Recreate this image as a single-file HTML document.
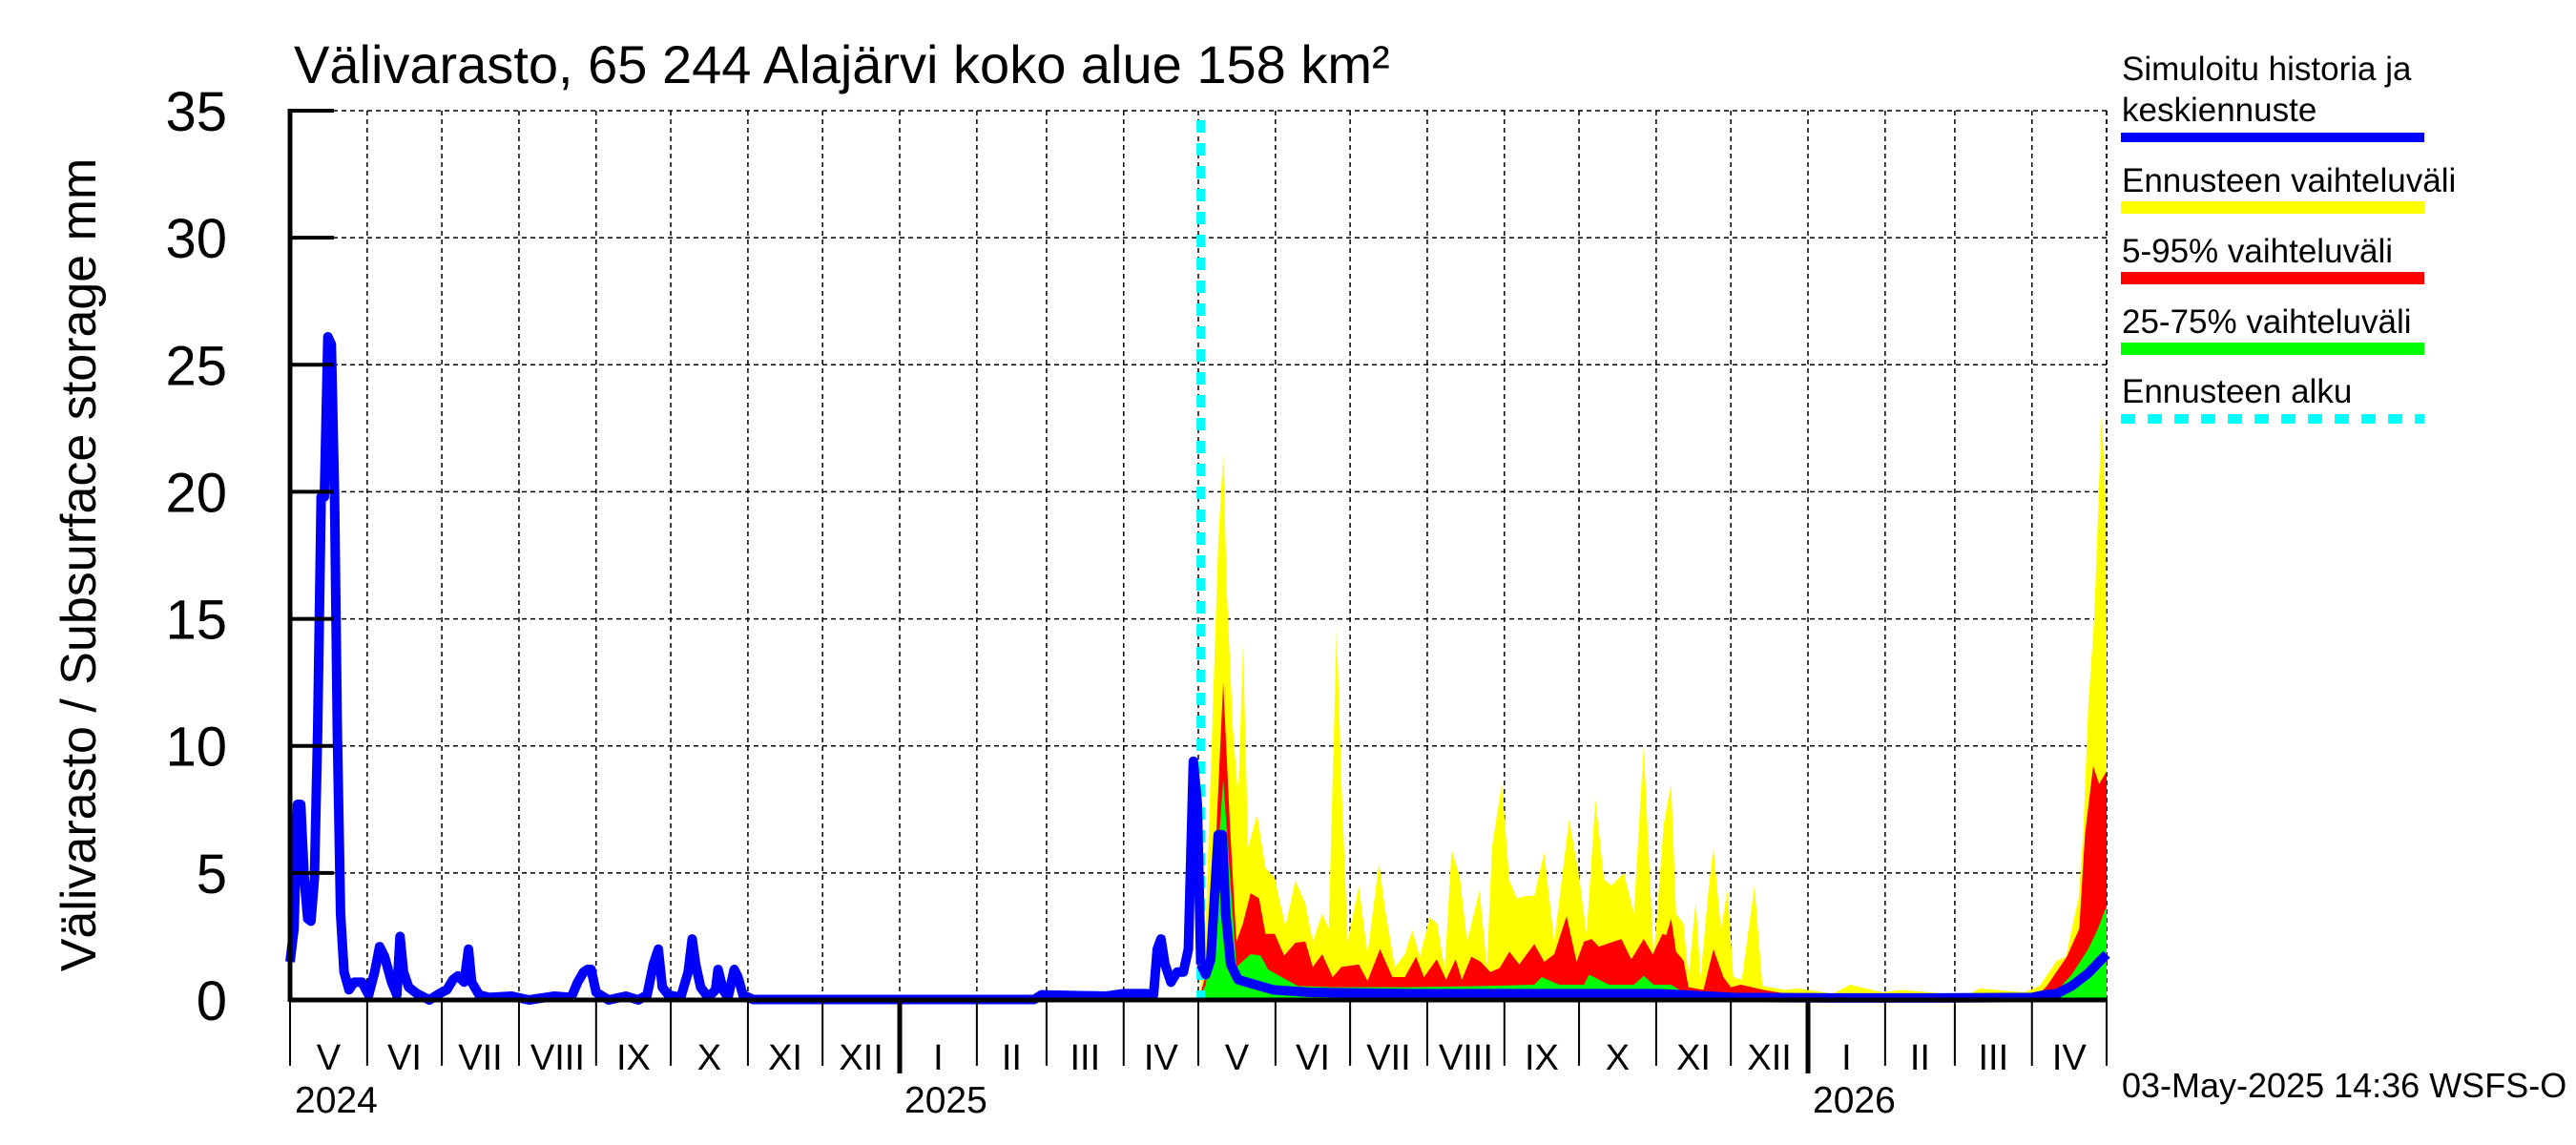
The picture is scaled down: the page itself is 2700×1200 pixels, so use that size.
<!DOCTYPE html>
<html><head><meta charset="utf-8"><style>
html,body{margin:0;padding:0;background:#fff;}
svg{display:block;font-family:"Liberation Sans",Arial,sans-serif;}
</style></head><body>
<svg id="chart" width="2700" height="1200" viewBox="0 0 2700 1200" xmlns="http://www.w3.org/2000/svg">
<rect width="2700" height="1200" fill="#fff"/>
<text x="308" y="87" font-size="56">Välivarasto, 65 244 Alajärvi koko alue 158 km²</text>
<text transform="translate(100,592) rotate(-90)" text-anchor="middle" font-size="52">Välivarasto / Subsurface storage  mm</text>
<g id="grid"></g>
<g id="bands"></g>
<g id="lines"></g>
<g id="axes"></g>
<g font-size="35">
<text x="2224" y="84">Simuloitu historia ja</text>
<text x="2224" y="127">keskiennuste</text>
<rect x="2223" y="139" width="318" height="10" fill="#0000ff"/>
<text x="2224" y="201">Ennusteen vaihteluväli</text>
<rect x="2223" y="211" width="318" height="13" fill="#ffff00"/>
<text x="2224" y="275">5-95% vaihteluväli</text>
<rect x="2223" y="285" width="318" height="13" fill="#ff0000"/>
<text x="2224" y="349">25-75% vaihteluväli</text>
<rect x="2223" y="359" width="318" height="13" fill="#00ff00"/>
<text x="2224" y="422">Ennusteen alku</text>
<line x1="2223" y1="439" x2="2541" y2="439" stroke="#00ffff" stroke-width="10" stroke-dasharray="15 13"/>
</g>
<text x="2224" y="1150" font-size="36">03-May-2025 14:36 WSFS-O</text>
</svg>
<script>
// ---- data (day 0 = 2024-05-01) ----
const histDays = [0,1.6,3,4.3,5.7,7.1,8.4,9.8,11.1,12.5,13.8,15.2,16.6,17.9,19,20.3,21.7,23.7,25.8,28.9,31.6,34,36,38,40.8,42.9,44.2,45.6,47.7,51,56,60,63,65.5,67.5,70,71.7,73,76,80,89,96,106,113,115.6,118,119.5,121,123,128,135,140,143.5,146,148,149.6,152,157,160,161.6,163,165,168,171,172,174,176,178.5,180,182,186,220,260,299,302,328,335,344,347,348.5,350,351.6,354,356.5,359,361,363,364.6,366];
const histVals = [1.5,2.8,7.7,7.7,4.8,3.2,3.1,4.8,10.6,19.8,19.8,26.1,25.8,19.8,10.6,3.4,1.1,0.4,0.7,0.7,0.2,1.1,2.1,1.7,0.7,0.2,2.5,1.1,0.5,0.25,0,0.25,0.4,0.8,0.95,0.7,2,0.7,0.2,0.1,0.15,0,0.15,0.1,0.7,1.1,1.2,1.2,0.3,0,0.15,0,0.2,1.4,2,0.5,0.2,0.1,1.1,2.4,1.4,0.5,0.1,0.4,1.2,0.4,0.1,1.2,0.9,0.2,0.02,0.02,0.02,0.02,0.2,0.15,0.25,0.25,0.2,2,2.4,1.4,0.7,1.1,1.1,2,9.4,7.7,1.4];
const medDays = [366,368,370,373,374.6,376,378,381,388,395,410,450,500,550,580,620,660,700,705,710,716,722.6,727,730];
const medVals = [1.4,1,1.6,6.5,6.5,3.4,1.4,0.8,0.6,0.4,0.3,0.25,0.25,0.25,0.1,0.08,0.08,0.1,0.2,0.25,0.55,1.05,1.5,1.8];
const yelDays = [366,368,371,373,375,376.5,378.9,381,383,385,388.6,392,395.7,400,404,408,411,414.8,417.4,420.6,422.5,425,429.5,433,437.6,440,444,448,451,454,458,461,464,466.8,470,473,478,481,483,487,490,493,497,500,504,508,514,518,521,524.6,528,531,536,540,544,548,552,555,557,560,562,564.9,566.8,570,572,575,577.7,580,583.4,588.5,591.7,601,606,620,627,640,647,665,673,679,697,703,710,713.7,716,718.8,720.7,722.6,725,728,729.5,730];
const yelVals = [1,3,12,18,21.5,16,10.7,8,14,6,7.3,5.2,4.8,2.9,4.7,3.8,2.3,3.4,2.8,14.7,8.6,2.3,4.5,1.8,5.4,3.6,1.3,1.8,2.75,1.7,3.25,3,1.2,5.9,4.9,2.3,4.3,1.3,6,8.5,4.7,4,4.1,4.1,5.8,2.3,7.1,4.9,2.6,7.9,4.75,4.5,5,3.4,10,1.6,6.9,8.5,3.4,3,0.9,3.9,0.9,4.3,6,2.8,4.3,0.9,0.8,4.5,0.55,0.4,0.45,0.25,0.6,0.3,0.4,0.25,0.15,0.45,0.3,0.55,1.55,1.7,2.8,4,6.8,11.5,15,23,20,14];
const redDays = [366,368,371,375,377.8,380.3,382.9,386,389.4,392,395.7,399.5,404,408,411,414.8,419,422.5,429.5,433,438,443,448,452.5,455.7,460.8,464.6,468.4,470.9,474.7,478.5,482.3,486,490,494,500,504,508,513,517,520,523,526,529,535,539,544,547.6,551.5,553,555,557,560,562,568,572,576,579,583,592,601,607,640,680,701,706,714,719,721.3,724.6,727,730];
const redVals = [0.3,1,4,12.5,6.7,2.3,3,4.2,4,2.6,2.6,1.75,2.25,2.3,1.3,1.8,0.9,1.3,1.4,0.75,2,0.9,0.9,1.7,0.9,1.6,0.8,1.6,0.8,1.7,1.5,1.1,1.25,1.9,1.4,2.2,1.5,1.8,3.3,1.5,2.3,2.4,2.1,2.2,2.4,1.6,2.4,1.8,2.6,2.55,3.2,1.9,1.55,0.5,0.4,2,0.9,0.5,0.6,0.4,0.25,0.18,0.05,0.05,0.05,0.55,1.7,2.8,6.5,9.2,8.5,9];
const grnDays = [366,368,371,375,377.8,380.3,386,390,393,398.5,405,420,450,480,500,503,510,520,522,530,540,544,548,555,560,580,700,710,716,722.6,726.5,730];
const grnVals = [0.2,0.6,3,8.7,4.8,1.3,1.8,1.75,1.2,0.9,0.55,0.5,0.5,0.55,0.6,0.9,0.6,0.6,1,0.6,0.6,0.95,0.6,0.6,0.3,0.2,0.2,0.35,1,2,2.8,3.7];
const yTicks = [0,5,10,15,20,25,30,35];
const monthLabels = ["V","VI","VII","VIII","IX","X","XI","XII","I","II","III","IV","V","VI","VII","VIII","IX","X","XI","XII","I","II","III","IV"];
const yearLabels = ["2024","2025","2026"];
const forecastDay = 366;

// ---- axes ----
const X0=304, X1=2208, Y0=1048, Y35=116, DAYS=730;
const xs = d => X0 + d*(X1-X0)/DAYS;
const ys = v => Y0 - v*(Y0-Y35)/35;
const NS="http://www.w3.org/2000/svg";
function mk(tag, parent, attrs){const e=document.createElementNS(NS,tag);for(const k in attrs)e.setAttribute(k,attrs[k]);parent.appendChild(e);return e;}
const grid=document.getElementById('grid'), bands=document.getElementById('bands'), lines=document.getElementById('lines'), axes=document.getElementById('axes');
const base=new Date(Date.UTC(2024,4,1));
const monthStarts=[];
for(let i=0;i<=24;i++){const d=new Date(Date.UTC(2024,4+i,1));monthStarts.push((d-base)/864e5);}

yTicks.forEach((v,i)=>{
  const y=ys(v);
  if(v>0){const g=mk('line',grid,{x1:X0,y1:y,x2:X1,y2:y,stroke:'#000','stroke-width':1.5,'stroke-dasharray':'5 4'});
  
  
  const t=mk('line',axes,{x1:X0,y1:y,x2:X0+46,y2:y,stroke:'#000','stroke-width':4});
  
  }
  const l=mk('text',axes,{x:238,y:y+21,'text-anchor':'end','font-size':58});
  l.textContent=v;
  
  
});
monthStarts.forEach((d,i)=>{
  const x=xs(d);
  if(i>0){const g=mk('line',grid,{x1:x,y1:Y35,x2:x,y2:Y0,stroke:'#000','stroke-width':1.5,'stroke-dasharray':'5 4'});
  
  }
  const isYear=(i===8||i===20);
  const t=mk('line',axes,{x1:x,y1:Y0,x2:x,y2:isYear?1125:1117,stroke:'#000','stroke-width':isYear?5:2});
  
  
  if(i<24){const l=mk('text',axes,{x:(x+xs(monthStarts[i+1]))/2,y:1121,'text-anchor':'middle','font-size':38});
  l.textContent=monthLabels[i];
  
  }
});
[0,8,20].forEach((mi,k)=>{
  const l=mk('text',axes,{x:xs(monthStarts[mi])+5,y:1166,'font-size':39});
  l.textContent=yearLabels[k];
  
  
});
const ax=mk('line',axes,{x1:X0,y1:Y35-2,x2:X0,y2:Y0+2,stroke:'#000','stroke-width':5});


const bx=mk('line',axes,{x1:X0,y1:Y0,x2:X1,y2:Y0,stroke:'#000','stroke-width':5});



function band(days,vals,color,name){
  let p=xs(days[0])+','+ys(0);
  days.forEach((d,i)=>{p+=' '+xs(d)+','+ys(vals[i]);});
  p+=' '+xs(days[days.length-1])+','+ys(0);
  const e=mk('polygon',bands,{points:p,fill:color});
  
  
}
band(yelDays,yelVals,'#ffff00','band-full-range');
band(redDays,redVals,'#ff0000','band-5-95');
band(grnDays,grnVals,'#00ff00','band-25-75');

const fl=mk('line',lines,{x1:xs(forecastDay),y1:Y35+10,x2:xs(forecastDay),y2:Y0,stroke:'#00ffff','stroke-width':9,'stroke-dasharray':'13 11'});



function line(days,vals,name){
  const p=days.map((d,i)=>xs(d)+','+ys(vals[i])).join(' ');
  const e=mk('polyline',lines,{points:p,fill:'none',stroke:'#0000ff','stroke-width':10,'stroke-linejoin':'round'});
  
  
}
line(histDays,histVals,'simulated-history-line');
line(medDays,medVals,'forecast-median-line');
const rb=mk('line',grid,{x1:X1,y1:Y35,x2:X1,y2:Y0,stroke:'#000','stroke-width':1.5,'stroke-dasharray':'5 4'});


</script>
</body></html>
